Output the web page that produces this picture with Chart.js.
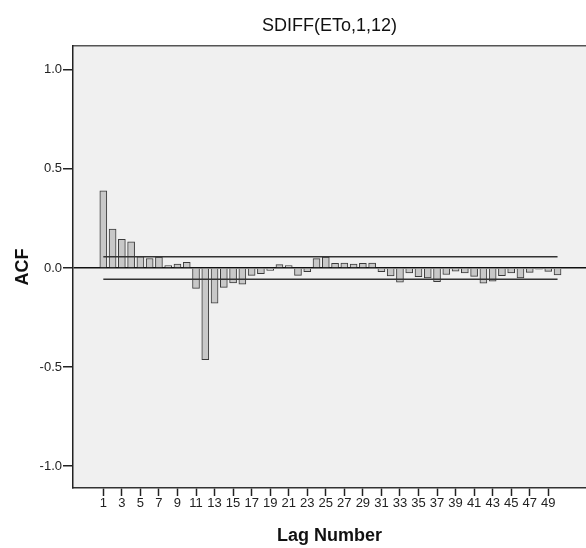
<!DOCTYPE html>
<html>
<head>
<meta charset="utf-8">
<script src="https://cdn.jsdelivr.net/npm/chart.js@4.4.0/dist/chart.umd.min.js"></script>
<style>
  html, body { margin: 0; padding: 0; background: #fff; }
  #wrap { width: 586px; height: 548px; position: relative; }
</style>
</head>
<body>
<div id="wrap"><canvas id="acf"></canvas></div>
<script>
// lag numbers and ACF values
const lags = [1,2,3,4,5,6,7,8,9,10,11,12,13,14,15,16,17,18,19,20,21,22,23,24,25,
              26,27,28,29,30,31,32,33,34,35,36,37,38,39,40,41,42,43,44,45,46,47,48,49,50];
const acfValues = [0.389, 0.196, 0.144, 0.132, 0.057, 0.048, 0.055, 0.012, 0.020, 0.028,
                   -0.103, -0.463, -0.178, -0.098, -0.075, -0.082, -0.037, -0.029, -0.012, 0.017,
                   0.012, -0.037, -0.018, 0.047, 0.055, 0.023, 0.025, 0.020, 0.023, 0.025,
                   -0.018, -0.040, -0.072, -0.025, -0.044, -0.050, -0.069, -0.033, -0.016, -0.025,
                   -0.042, -0.076, -0.066, -0.039, -0.025, -0.050, -0.022, -0.006, -0.017, -0.035];
const confLimit = 0.057;
const xTickLags = [1,3,5,7,9,11,13,15,17,19,21,23,25,27,29,31,33,35,37,39,41,43,45,47,49];
const yTickValues = [-1, -0.5, 0, 0.5, 1];

Chart.defaults.font.family = "'Liberation Sans', Arial, sans-serif";
Chart.defaults.color = "#222";

const plotBg = {
  id: "plotBg",
  beforeDraw(chart) {
    const a = chart.chartArea, ctx = chart.ctx;
    ctx.save();
    ctx.fillStyle = "#f0f0f0";
    ctx.fillRect(a.left, a.top, a.right - a.left, a.bottom - a.top);
    ctx.restore();
  }
};

const firstLag = lags[0], lastLag = lags[lags.length - 1];

new Chart(document.getElementById("acf"), {
  type: "bar",
  data: {
    datasets: [
      {
        type: "bar",
        data: lags.map((l, i) => ({ x: l, y: acfValues[i] })),
        backgroundColor: "#c8c8c8",
        borderColor: "#3a3a3a",
        borderWidth: 1,
        barThickness: 7,
        order: 2
      },
      {
        type: "line",
        data: [{ x: firstLag, y: confLimit }, { x: lastLag, y: confLimit }],
        borderColor: "#333",
        borderWidth: 1.5,
        pointRadius: 0,
        fill: false,
        order: 1
      },
      {
        type: "line",
        data: [{ x: firstLag, y: -confLimit }, { x: lastLag, y: -confLimit }],
        borderColor: "#333",
        borderWidth: 1.5,
        pointRadius: 0,
        fill: false,
        order: 1
      }
    ]
  },
  options: {
    responsive: true,
    maintainAspectRatio: false,
    animation: false,
    layout: { padding: 0 },
    plugins: {
      legend: { display: false },
      tooltip: { enabled: false }
    },
    scales: {
      x: {
        type: "linear",
        position: "bottom",
        offset: false,
        min: -2.27,
        max: 53.07,
        afterBuildTicks: s => { s.ticks = xTickLags.map(v => ({ value: v })); },
        afterFit: s => { s.height = 60; },
        ticks: {
          autoSkip: false,
          maxRotation: 0,
          padding: 0,
          font: { size: 13 },
          callback: v => String(v)
        },
        grid: {
          offset: false,
          drawOnChartArea: false,
          drawTicks: true,
          tickLength: 8,
          tickColor: "#222",
          tickWidth: 1.5
        },
        border: { display: true, color: "#333", width: 1.5 },
        title: {
          display: true,
          text: "Lag Number",
          font: { size: 18, weight: "bold" },
          color: "#111",
          padding: { top: 0, bottom: 1 }
        }
      },
      xTop: {
        type: "linear",
        position: "top",
        offset: false,
        min: -2.27,
        max: 53.07,
        afterFit: s => { s.height = 46; },
        ticks: { display: false },
        grid: { display: false },
        border: { display: true, color: "#555", width: 1.5 },
        title: {
          display: true,
          text: "SDIFF(ETo,1,12)",
          font: { size: 18 },
          color: "#111",
          padding: { top: 15, bottom: 0 }
        }
      },
      y: {
        type: "linear",
        min: -1.11,
        max: 1.12,
        afterBuildTicks: s => { s.ticks = yTickValues.map(v => ({ value: v })); },
        afterFit: s => { s.width = 73; },
        ticks: {
          padding: 1,
          font: { size: 13 },
          callback: v => Number(v).toFixed(1)
        },
        grid: {
          drawTicks: true,
          tickLength: 10,
          tickColor: "#222",
          tickWidth: 1.5,
          color: c => (c.tick && c.tick.value === 0 ? "#111" : "rgba(0,0,0,0)"),
          lineWidth: 1.5
        },
        border: { display: true, color: "#222", width: 1.5 },
        title: {
          display: true,
          text: "ACF",
          font: { size: 18, weight: "bold" },
          color: "#111",
          padding: { top: 12, bottom: 0 }
        }
      }
    }
  },
  plugins: [plotBg]
});
</script>
</body>
</html>
